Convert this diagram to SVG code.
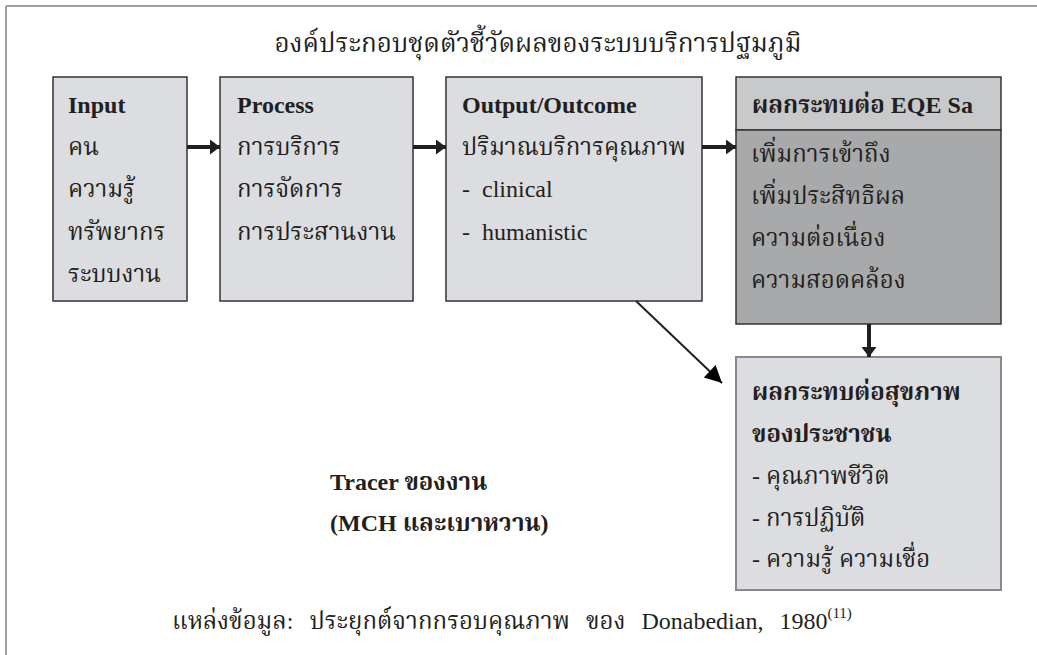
<svg xmlns="http://www.w3.org/2000/svg" width="1037" height="655" viewBox="0 0 1037 655">
<style>
text{font-family:"Liberation Serif","Noto Serif Thai","Noto Sans Thai",serif;fill:#231f20;font-size:24px}
.b{font-weight:bold}
.t{font-size:26px}
.box{fill:#dcdde0;stroke:#333;stroke-width:1.5}
.hbox{fill:#dcdde0;stroke:#8a8a8c;stroke-width:2}
.hdr{fill:#c8c9cb;stroke:#333;stroke-width:1.5}
.dark{fill:#a8a9ab;stroke:#333;stroke-width:1.5}
.conn{stroke:#231f20;fill:none}
</style>
<defs>
<marker id="ah" viewBox="0 0 10 15" refX="10" refY="7.5" markerWidth="10" markerHeight="15" markerUnits="userSpaceOnUse" orient="auto">
<path d="M0,0 L10,7.5 L0,15 z" fill="#231f20"/>
</marker>
<marker id="ah2" viewBox="0 0 10 10" refX="10" refY="5" markerWidth="9.5" markerHeight="8.5" markerUnits="strokeWidth" orient="auto">
<path d="M0,0 L10,5 L0,10 z" fill="#000"/>
</marker>
</defs>
<g id="frame">
<line x1="6" y1="6" x2="1037" y2="6" stroke="#a0a0a0" stroke-width="2"/>
<line x1="6" y1="6" x2="6" y2="655" stroke="#a0a0a0" stroke-width="2"/>
</g>
<g id="title"><text class="t" x="538" y="52" text-anchor="middle">องค์ประกอบชุดตัวชี้วัดผลของระบบบริการปฐมภูมิ</text></g>
<g id="input">
<rect class="box" x="53" y="77" width="134" height="224"/>
<text class="b" x="68" y="113">Input</text>
<text x="68" y="155">คน</text>
<text x="68" y="197">ความรู้</text>
<text x="68" y="240">ทรัพยากร</text>
<text x="68" y="282">ระบบงาน</text>
</g>
<g id="process">
<rect class="box" x="220" y="77" width="193" height="224"/>
<text class="b" x="237" y="113">Process</text>
<text x="237" y="155">การบริการ</text>
<text x="237" y="197">การจัดการ</text>
<text x="237" y="240">การประสานงาน</text>
</g>
<g id="output">
<rect class="box" x="446" y="77" width="256" height="224"/>
<text class="b" x="462" y="113">Output/Outcome</text>
<text x="462" y="155">ปริมาณบริการคุณภาพ</text>
<text x="462" y="197" xml:space="preserve">-  clinical</text>
<text x="462" y="240" xml:space="preserve">-  humanistic</text>
</g>
<g id="eqe">
<rect class="hdr" x="736" y="77" width="265" height="53"/>
<rect class="dark" x="736" y="130" width="265" height="194"/>
<text class="b" x="752" y="113" font-size="25">ผลกระทบต่อ EQE Sa</text>
<text x="751" y="162">เพิ่มการเข้าถึง</text>
<text x="751" y="204">เพิ่มประสิทธิผล</text>
<text x="751" y="246">ความต่อเนื่อง</text>
<text x="751" y="288">ความสอดคล้อง</text>
</g>
<g id="health">
<rect class="hbox" x="736" y="357" width="265" height="233"/>
<text class="b" x="752" y="400">ผลกระทบต่อสุขภาพ</text>
<text class="b" x="752" y="442">ของประชาชน</text>
<text x="752" y="484">- คุณภาพชีวิต</text>
<text x="752" y="526">- การปฏิบัติ</text>
<text x="752" y="567">- ความรู้ ความเชื่อ</text>
</g>
<g id="tracer">
<text class="b" x="330" y="490" font-size="23">Tracer ของงาน</text>
<text class="b" x="330" y="531" font-size="23">(MCH และเบาหวาน)</text>
</g>
<g id="source">
<text x="172" y="629" word-spacing="10">แหล่งข้อมูล: ประยุกต์จากกรอบคุณภาพ ของ Donabedian, 1980<tspan font-size="15" dy="-11">(11)</tspan></text>
</g>
<g id="connectors">
<line class="conn" x1="187" y1="147" x2="220" y2="147" stroke-width="4" marker-end="url(#ah)"/>
<line class="conn" x1="413" y1="147" x2="446" y2="147" stroke-width="4" marker-end="url(#ah)"/>
<line class="conn" x1="702" y1="147" x2="736" y2="147" stroke-width="4" marker-end="url(#ah)"/>
<line class="conn" x1="869" y1="324" x2="869" y2="357" stroke-width="4" marker-end="url(#ah)"/>
<line class="conn" x1="636" y1="301" x2="722" y2="383" stroke-width="2" marker-end="url(#ah2)"/>
</g>
</svg>
